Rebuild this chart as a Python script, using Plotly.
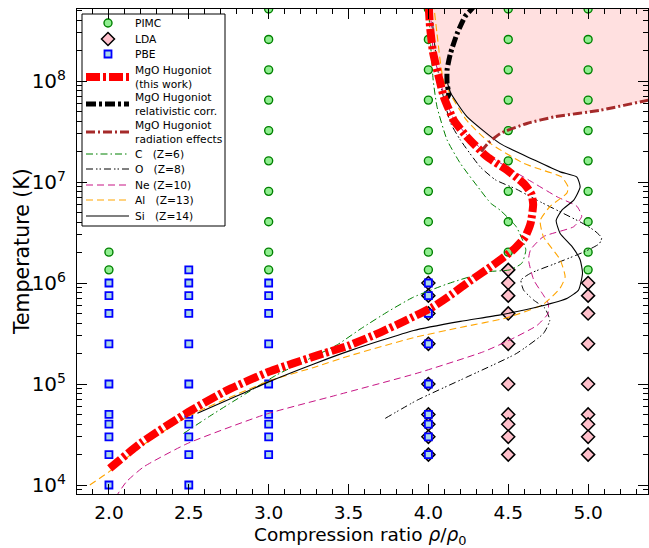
import plotly.graph_objects as go

# ---------------- data ----------------
pimc_T_full = [5.17e8, 2.58e8, 1.29e8, 6.47e7, 3.23e7, 1.62e7, 8.08e6, 4.04e6, 2.02e6, 1.35e6]
pimc_rho = [2.0, 3.0, 4.0, 4.5, 5.0]
pimc_temps = [[2.02e6, 1.35e6], pimc_T_full, pimc_T_full, pimc_T_full, pimc_T_full]

dft_T = [1.0e6, 7.5e5, 5.0e5, 2.5e5, 1.0e5, 5.0e4, 4.0e4, 3.0e4, 2.0e4]
lda_rho = [4.0, 4.5, 5.0]
lda_temps = [dft_T, [1.35e6] + dft_T, dft_T]

pbe_rho = [2.0, 2.5, 3.0, 4.0]
pbe_temps = [dft_T + [1.0e4], [1.35e6] + dft_T + [1.0e4], dft_T, dft_T]

# MgO Hugoniot (this work)
hug_rho = [2.005, 2.2, 2.5, 2.742, 3.0, 3.3, 3.5, 3.7, 3.85, 4.03, 4.14, 4.242, 4.406, 4.53,
           4.606, 4.64, 4.656, 4.645, 4.60, 4.49, 4.367, 4.24, 4.16, 4.096, 4.07, 4.03, 4.01, 4.0]
hug_T = [1.46e4, 2.61e4, 5.32e4, 8.71e4, 1.32e5, 1.91e5, 2.40e5, 3.25e5, 4.2e5, 5.82e5, 7.6e5,
         1.0e6, 1.51e6, 2.12e6, 2.87e6, 3.9e6, 6.0e6, 7.6e6, 9.55e6, 1.32e7, 1.78e7, 2.82e7,
         4.07e7, 7.0e7, 1.02e8, 1.89e8, 3.47e8, 6.3e8]

# relativistic correction
rel_rho = [4.10, 4.127, 4.117, 4.117, 4.1375, 4.18, 4.23, 4.273, 4.31]
rel_T = [6.3e7, 7.24e7, 9.55e7, 1.29e8, 1.86e8, 2.95e8, 4.37e8, 5.19e8, 6.3e8]

# radiation effects
rad_rho = [4.33, 4.377, 4.45, 4.617, 4.79, 5.075, 5.377, 5.45]
rad_T = [2.0e7, 2.45e7, 3.02e7, 3.8e7, 4.42e7, 5.13e7, 6.46e7, 6.76e7]

# shaded region edge between relativistic and radiation curves
edge_rho = [4.14, 4.24, 4.34, 4.40]
edge_T = [7.6e7, 4.47e7, 3.1e7, 2.6e7]

# element Hugoniots
c_rho = [2.467, 2.63, 2.75, 3.05, 3.28, 3.43, 3.58, 3.75, 3.906, 4.117, 4.367, 4.51, 4.585, 4.61,
         4.55, 4.45, 4.39, 4.325, 4.2, 4.117, 4.054, 4.03, 4.01, 4.0]
c_T = [3.24e4, 4.79e4, 6.31e4, 1.23e5, 1.86e5, 2.45e5, 3.55e5, 5.25e5, 7.24e5, 9.77e5, 1.29e6,
       1.35e6, 1.57e6, 2.14e6, 3.61e6, 5.25e6, 6.17e6, 8.32e6, 1.53e7, 2.61e7, 5.56e7, 1.02e8,
       2.95e8, 6.3e8]

o_rho = [3.73, 3.93, 4.24, 4.55, 4.72, 4.76, 4.73, 4.66, 4.596, 4.58, 4.64, 4.80, 4.98, 5.07,
         5.085, 5.04, 4.96, 4.68, 4.55, 4.42, 4.325, 4.2, 4.14, 4.10, 4.06, 4.03, 4.02]
o_T = [4.57e4, 6.92e4, 1.17e5, 2.0e5, 3.16e5, 4.27e5, 5.62e5, 6.76e5, 8.51e5, 1.07e6, 1.25e6,
       1.57e6, 2.05e6, 2.45e6, 2.8e6, 3.3e6, 3.95e6, 6.61e6, 8.51e6, 1.05e7, 1.41e7, 2.61e7,
       3.8e7, 6.31e7, 1.26e8, 3.16e8, 6.3e8]

ne_rho = [2.04, 2.11, 2.217, 2.49, 2.98, 3.425, 3.93, 4.346, 4.51, 4.68, 4.75, 4.75, 4.72, 4.66,
          4.627, 4.64, 4.72, 4.91, 4.96, 4.93, 4.81, 4.66, 4.52, 4.38, 4.25, 4.16, 4.10, 4.07,
          4.03, 4.01]
ne_T = [7.5e3, 1.08e4, 1.51e4, 2.57e4, 5.01e4, 7.76e4, 1.28e5, 2.09e5, 2.73e5, 3.8e5, 5.01e5,
        6.31e5, 7.59e5, 1.07e6, 1.70e6, 2.14e6, 2.88e6, 3.61e6, 4.57e6, 5.75e6, 7.08e6, 9.77e6,
        1.32e7, 1.82e7, 2.82e7, 4.17e7, 7.08e7, 1.05e8, 2.0e8, 6.3e8]

al_rho = [1.88, 2.0, 2.217, 2.49, 3.0, 3.283, 3.51, 3.908, 4.2, 4.49, 4.72, 4.825, 4.856, 4.825,
          4.72, 4.70, 4.76, 4.867, 4.875, 4.835, 4.69, 4.596, 4.39, 4.24, 4.096, 4.054, 4.03]
al_T = [1.0e4, 1.35e4, 2.51e4, 4.74e4, 1.07e5, 1.46e5, 1.91e5, 2.88e5, 3.63e5, 4.52e5, 6.17e5,
        8.91e5, 1.15e6, 1.70e6, 2.88e6, 4.17e6, 5.69e6, 7.76e6, 8.91e6, 1.12e7, 1.35e7, 1.53e7,
        2.40e7, 4.07e7, 1.0e8, 2.95e8, 6.3e8]

si_rho = [2.554, 2.8, 3.0, 3.283, 3.51, 3.908, 4.2, 4.45, 4.70, 4.87, 4.94, 4.965, 4.95, 4.90,
          4.825, 4.80, 4.835, 4.91, 4.95, 4.93, 4.825, 4.66, 4.45, 4.24, 4.14, 4.12]
si_T = [5.13e4, 7.59e4, 1.05e5, 1.58e5, 2.14e5, 3.39e5, 4.17e5, 4.84e5, 5.89e5, 7.08e5, 8.51e5,
        1.25e6, 1.70e6, 2.29e6, 3.09e6, 4.17e6, 5.25e6, 6.61e6, 8.91e6, 1.12e7, 1.26e7, 1.66e7,
        2.40e7, 4.47e7, 7.59e7, 9.5e7]

y_tick_vals = [1e4, 1e5, 1e6, 1e7, 1e8]
y_tick_text = ["10<sup>4</sup>", "10<sup>5</sup>", "10<sup>6</sup>", "10<sup>7</sup>", "10<sup>8</sup>"]

# ---------------- styles ----------------
FONT = "DejaVu Sans"
sty_red = dict(color="red", width=8, dash="14px,3px,3px,3px")
sty_rel = dict(color="black", width=5, dash="10px,3px,3px,3px")
sty_rad = dict(color="#a52a2a", width=3, dash="9px,3px,2px,3px")
sty_c = dict(color="green", width=1, dash="7px,3px,1.5px,3px")
sty_o = dict(color="black", width=1, dash="7px,3px,1.5px,2px,1.5px,3px")
sty_ne = dict(color="mediumvioletred", width=1, dash="7px,4px")
sty_al = dict(color="orange", width=1.1, dash="7px,4px")
sty_si = dict(color="black", width=1.1)
mk_pimc = dict(symbol="circle", size=8, color="#90ee90", line=dict(color="green", width=1.4))
mk_lda = dict(symbol="diamond", size=10, color="pink", line=dict(color="black", width=1.5))
mk_pbe = dict(symbol="square", size=7, color="lightblue", line=dict(color="blue", width=1.8))

fig = go.Figure()

# shaded region
top = [i for i in range(len(hug_T)) if hug_T[i] >= 7.0e7][::-1]
fill_x = [hug_rho[i] for i in top] + edge_rho + [r for r in rad_rho if r > edge_rho[-1]]
fill_y = [hug_T[i] for i in top] + edge_T + [t for r, t in zip(rad_rho, rad_T) if r > edge_rho[-1]]
fill_x += [rad_rho[-1], rad_rho[-1]]
fill_y += [hug_T[-1], hug_T[-1]]
fig.add_trace(go.Scatter(x=fill_x, y=fill_y, mode="lines", fill="toself",
                         fillcolor="rgba(255,0,0,0.12)", line=dict(width=0),
                         hoverinfo="skip"))

def scatter_points(rhos, temps, marker):
    xs, ys = [], []
    for r, ts in zip(rhos, temps):
        xs += [r] * len(ts)
        ys += list(ts)
    fig.add_trace(go.Scatter(x=xs, y=ys, mode="markers", marker=marker))

scatter_points(pimc_rho, pimc_temps, mk_pimc)
scatter_points(lda_rho, lda_temps, mk_lda)
scatter_points(pbe_rho, pbe_temps, mk_pbe)

for xs, ys, st in [(c_rho, c_T, sty_c), (o_rho, o_T, sty_o), (ne_rho, ne_T, sty_ne),
                   (al_rho, al_T, sty_al), (si_rho, si_T, sty_si), (rad_rho, rad_T, sty_rad),
                   (rel_rho, rel_T, sty_rel), (hug_rho, hug_T, sty_red)]:
    fig.add_trace(go.Scatter(x=xs, y=ys, mode="lines", line=dict(shape="spline", smoothing=0.5, **st)))

# ---------------- legend (drawn on a hidden pixel-space overlay) ----------------
L_X0, L_X1, L_SYM, L_TXT = 86, 129, 108, 133
leg_items = [
    ("m", mk_pimc, 23, "PIMC"),
    ("m", mk_lda, 39, "LDA"),
    ("m", mk_pbe, 54, "PBE"),
    ("l", sty_red, 77, "MgO Hugoniot<br>(this work)"),
    ("l", sty_rel, 104, "MgO Hugoniot<br>relativistic corr."),
    ("l", sty_rad, 132, "MgO Hugoniot<br>radiation effects"),
    ("l", sty_c, 154, "C\u00a0\u00a0\u00a0(Z=6)"),
    ("l", sty_o, 169, "O\u00a0\u00a0\u00a0(Z=8)"),
    ("l", sty_ne, 185, "Ne\u00a0(Z=10)"),
    ("l", sty_al, 200, "Al\u00a0\u00a0\u00a0(Z=13)"),
    ("l", sty_si, 216, "Si\u00a0\u00a0\u00a0(Z=14)"),
]
annotations = []
for kind, st, yc, label in leg_items:
    if kind == "m":
        fig.add_trace(go.Scatter(x=[L_SYM], y=[yc], xaxis="x2", yaxis="y2", mode="markers",
                                 marker=st, cliponaxis=False))
    else:
        fig.add_trace(go.Scatter(x=[L_X0, L_X1], y=[yc, yc], xaxis="x2", yaxis="y2",
                                 mode="lines", line=st, cliponaxis=False))
    annotations.append(dict(x=L_TXT, y=yc, xref="x2", yref="y2", text=label, showarrow=False,
                            xanchor="left", yanchor="middle", align="left",
                            font=dict(family=FONT, size=10.7, color="black")))

# axis titles
annotations.append(dict(x=0.4956, y=-0.087, xref="paper", yref="paper", showarrow=False,
                        text="Compression ratio <i>ρ</i>/<i>ρ</i><sub>0</sub>",
                        xanchor="center", yanchor="middle",
                        font=dict(family=FONT, size=18.5, color="black")))
annotations.append(dict(x=-0.097, y=0.5, xref="paper", yref="paper", showarrow=False,
                        text="Temperature (K)", textangle=-90,
                        xanchor="center", yanchor="middle",
                        font=dict(family=FONT, size=20.5, color="black")))

minor_y = [k * 10 ** e for e in range(3, 9) for k in range(2, 10)]

fig.update_layout(
    width=649, height=548,
    margin=dict(l=77, r=1, t=9, b=54, pad=0),
    paper_bgcolor="white", plot_bgcolor="white",
    font=dict(family=FONT, color="black"),
    showlegend=False,
    xaxis=dict(range=[1.8, 5.375], tickmode="linear", tick0=2.0, dtick=0.5, tickformat=".1f",
               ticks="inside", ticklen=10, tickwidth=1, tickcolor="black",
               showline=True, linecolor="black", linewidth=1, mirror="allticks",
               showgrid=False, zeroline=False, ticklabelstandoff=2,
               minor=dict(ticks="inside", ticklen=5, tickwidth=1, tickcolor="black",
                          dtick=0.1, tick0=2.0, showgrid=False),
               tickfont=dict(size=18.5)),
    yaxis=dict(type="log", range=[3.911, 8.713], tickmode="array", tickvals=y_tick_vals,
               ticktext=y_tick_text, ticks="inside", ticklen=10, tickwidth=1, tickcolor="black",
               showline=True, linecolor="black", linewidth=1, mirror="allticks",
               showgrid=False, zeroline=False, ticklabelstandoff=6,
               minor=dict(tickmode="array", tickvals=minor_y, ticks="inside", ticklen=5,
                          tickwidth=1, tickcolor="black", showgrid=False),
               tickfont=dict(size=20)),
    xaxis2=dict(overlaying="x", range=[77, 648], visible=False, fixedrange=True),
    yaxis2=dict(overlaying="y", range=[494, 9], visible=False, fixedrange=True),
    shapes=[dict(type="rect", xref="x2", yref="y2", x0=82, x1=225, y0=14, y1=226,
                 line=dict(color="black", width=1), fillcolor="white", layer="below")],
    annotations=annotations,
)

fig.write_html("out.html", config={"displayModeBar": False},
               post_script="document.body.style.margin='0px';")
